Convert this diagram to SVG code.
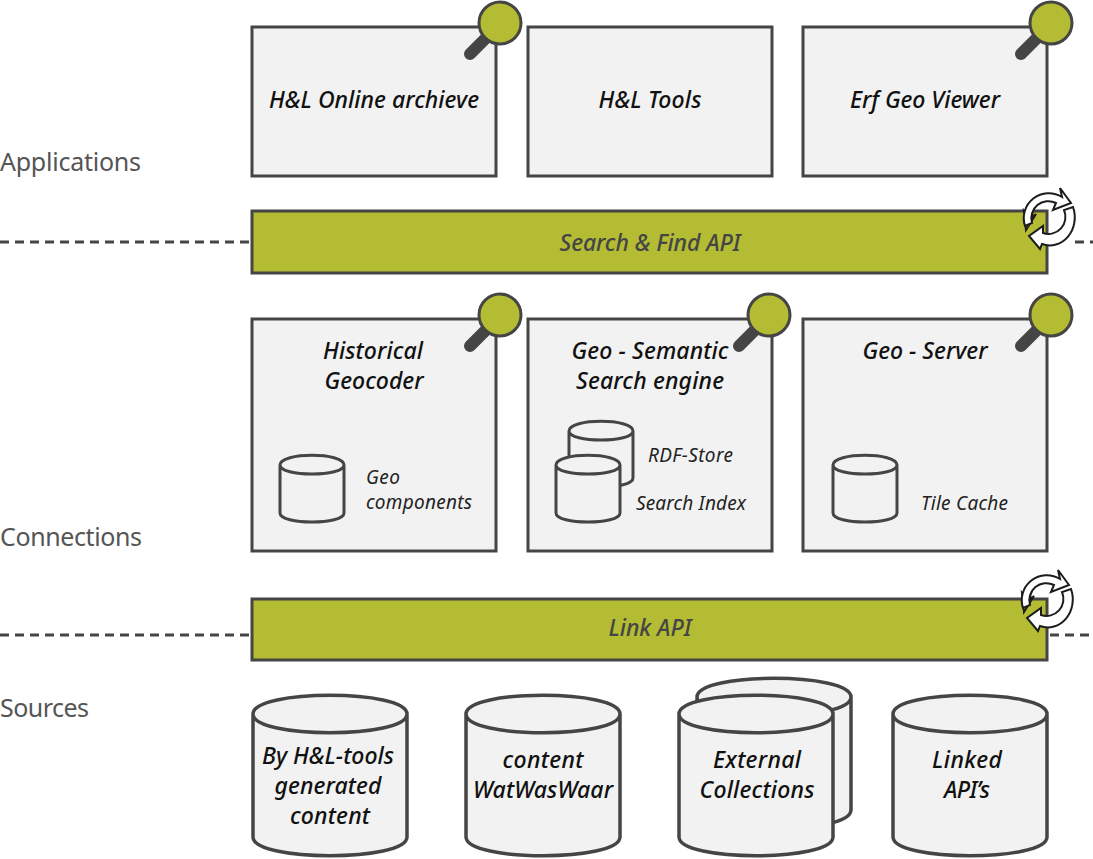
<svg xmlns="http://www.w3.org/2000/svg" xmlns:xlink="http://www.w3.org/1999/xlink" width="1093" height="859" viewBox="0 0 1093 859">
<style>
.box{fill:#f2f2f2;stroke:#454545;stroke-width:3}
.bar{fill:#b3bc33;stroke:#454545;stroke-width:3}
.cyl{fill:#f2f2f2;stroke:#454545;stroke-width:3.5}
.cs{fill:#f2f2f2;stroke:#454545;stroke-width:3}
.dash{fill:none;stroke:#454545;stroke-width:3;stroke-dasharray:9 6}
.t{font-family:"Noto Sans","Open Sans",sans-serif;font-style:italic;font-weight:500;font-size:23px;fill:#111;text-anchor:middle}
.s{font-family:"Noto Sans","Open Sans",sans-serif;font-style:italic;font-size:19px;fill:#222}
.b{font-family:"Noto Sans","Open Sans",sans-serif;font-style:italic;font-weight:500;font-size:23px;fill:#454545;text-anchor:middle}
.l{font-family:"Noto Sans","Open Sans",sans-serif;font-size:25px;fill:#555}
.ra{fill:#fff;stroke:#1c1c1c;stroke-width:2;stroke-linejoin:miter}
</style>
<defs>
<g id="mag"><line x1="-14" y1="15" x2="-30" y2="31" stroke="#454545" stroke-width="12" stroke-linecap="round"/><circle r="21" fill="#b3bc33" stroke="#454545" stroke-width="3"/></g>
<g id="rec">
<path class="ra" d="M-10,-15 A17,17 0 0 0 -17,-1 L-13,-4 L-23,12 L-25,-7 L-22,-3 A25,25 0 0 1 -14,-20 Z"/>
<path class="ra" d="M-24,8 A25,25 0 0 1 13,-21 L11,-30 L22,-15 L4,-8 L7,-15 A17,17 0 0 0 -17,5 Z"/>
<path class="ra" d="M24,-11 A25,28 0 0 1 -7,26 L-9,31 L-20,18 L-6,8 L-6,15 A17,17 0 0 0 15,-8 Z"/>
</g>
</defs>
<g id="connectors">
<path class="dash" d="M0,242H252M1075,242H1093M0,635H252M1050,635H1093"/>
</g>
<g id="labels">
<text class="l" x="0" y="171" textLength="141">Applications</text>
<text class="l" x="0" y="546" textLength="142">Connections</text>
<text class="l" x="0" y="717" textLength="89">Sources</text>
</g>
<g id="online"><rect class="box" x="252" y="27" width="244" height="149"/><text class="t" x="374" y="108" textLength="210">H&amp;L Online archieve</text><use xlink:href="#mag" href="#mag" x="500" y="23"/></g>
<g id="tools"><rect class="box" x="528" y="27" width="244" height="149"/><text class="t" x="650" y="108" textLength="103">H&amp;L Tools</text></g>
<g id="viewer"><rect class="box" x="803" y="27" width="244" height="149"/><text class="t" x="925" y="108" textLength="150">Erf Geo Viewer</text><use xlink:href="#mag" href="#mag" x="1051" y="23"/></g>
<g id="search-api"><rect class="bar" x="252" y="211" width="795" height="62"/><text class="b" x="650" y="251" textLength="181">Search &amp; Find API</text><use xlink:href="#rec" href="#rec" x="1049" y="218"/></g>
<g id="geocoder"><rect class="box" x="252" y="319" width="244" height="232"/><text class="t" x="373" y="359" textLength="100">Historical</text><text class="t" x="374" y="389" textLength="99">Geocoder</text><use xlink:href="#mag" href="#mag" x="500" y="315"/>
<path class="cs" d="M280,465V513C280,525 344,525 344,513V465C344,452 280,452 280,465C280,477 344,477 344,465"/>
<text class="s" x="366" y="484" textLength="34">Geo</text><text class="s" x="366" y="509" textLength="106">components</text></g>
<g id="semantic"><rect class="box" x="528" y="319" width="244" height="232"/><text class="t" x="650" y="359" textLength="157">Geo - Semantic</text><text class="t" x="650" y="389" textLength="148">Search engine</text><use xlink:href="#mag" href="#mag" x="769" y="315"/>
<path class="cs" d="M569,431V478C569,490 633,490 633,478V431C633,418 569,418 569,431C569,443 633,443 633,431"/>
<path class="cs" d="M556,465V513C556,525 620,525 620,513V465C620,452 556,452 556,465C556,477 620,477 620,465"/>
<text class="s" x="648" y="462" textLength="85">RDF-Store</text><text class="s" x="636" y="510" textLength="110">Search Index</text></g>
<g id="geoserver"><rect class="box" x="803" y="319" width="244" height="232"/><text class="t" x="925" y="359" textLength="125">Geo - Server</text><use xlink:href="#mag" href="#mag" x="1051" y="315"/>
<path class="cs" d="M833,465V513C833,525 897,525 897,513V465C897,452 833,452 833,465C833,477 897,477 897,465"/>
<text class="s" x="921" y="510" textLength="87">Tile Cache</text></g>
<g id="link-api"><rect class="bar" x="252" y="599" width="795" height="61"/><text class="b" x="650" y="636" textLength="83">Link API</text><use xlink:href="#rec" href="#rec" x="1047" y="600"/></g>
<g id="generated"><path class="cyl" d="M253,714V837C253,862 407,862 407,837V714C407,689 253,689 253,714C253,739 407,739 407,714"/><text class="t" x="328" y="764" textLength="132">By H&amp;L-tools</text><text class="t" x="328" y="794" textLength="107">generated</text><text class="t" x="330" y="824" textLength="80">content</text></g>
<g id="watwaswaar"><path class="cyl" d="M466,714V837C466,862 620,862 620,837V714C620,689 466,689 466,714C466,739 620,739 620,714"/><text class="t" x="543" y="768" textLength="81">content</text><text class="t" x="543" y="798" textLength="140">WatWasWaar</text></g>
<g id="external"><path class="cyl" d="M697,697V810C697,835 851,835 851,810V697C851,672 697,672 697,697C697,722 851,722 851,697"/><path class="cyl" d="M679,714V837C679,862 833,862 833,837V714C833,689 679,689 679,714C679,739 833,739 833,714"/><text class="t" x="757" y="768" textLength="88">External</text><text class="t" x="757" y="798" textLength="115">Collections</text></g>
<g id="linked"><path class="cyl" d="M893,714V837C893,862 1047,862 1047,837V714C1047,689 893,689 893,714C893,739 1047,739 1047,714"/><text class="t" x="967" y="768" textLength="70">Linked</text><text class="t" x="967" y="798" textLength="46">API’s</text></g>
</svg>
